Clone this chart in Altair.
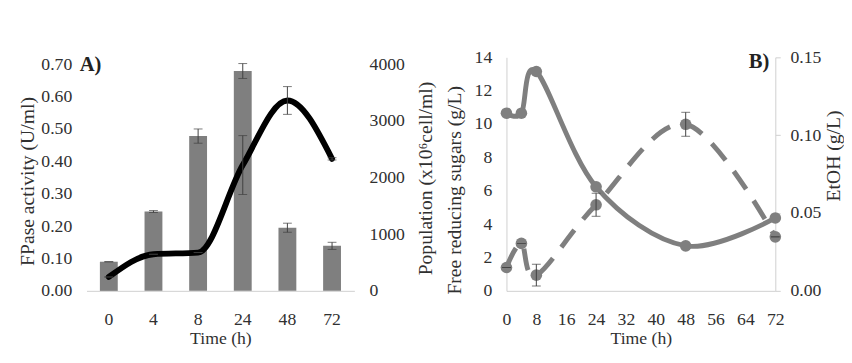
import altair as alt
import pandas as pd

# ---------------- data ----------------
time_a = ["0", "4", "8", "24", "48", "72"]
fpase = [0.09, 0.245, 0.478, 0.679, 0.195, 0.139]
fpase_err = [0.0, 0.003, 0.022, 0.023, 0.014, 0.011]
population = [245, 646, 676, 2220, 3360, 2330]
population_err = [0, 0, 0, 520, 245, 20]

time_b = [0, 4, 8, 24, 48, 72]
sugars = [10.65, 10.65, 13.15, 6.24, 2.7, 4.37]
etoh = [0.015, 0.0305, 0.0101, 0.0553, 0.107, 0.0347]
etoh_err = [0.0, 0.0, 0.007, 0.0074, 0.0077, 0.0]

FONT = "Liberation Serif"
GREY = "#7f7f7f"
TXT = "#303030"
AXC = "#cfcfcf"

df_a = pd.DataFrame({
    "t": time_a, "fpase": fpase,
    "f_lo": [v - e for v, e in zip(fpase, fpase_err)],
    "f_hi": [v + e for v, e in zip(fpase, fpase_err)],
    "pop": population,
    "p_lo": [v - e for v, e in zip(population, population_err)],
    "p_hi": [v + e for v, e in zip(population, population_err)],
})
df_b = pd.DataFrame({
    "t": time_b, "sug": sugars, "etoh": etoh,
    "e_lo": [v - e for v, e in zip(etoh, etoh_err)],
    "e_hi": [v + e for v, e in zip(etoh, etoh_err)],
})

H = 238
HA = 231  # pixel height used by 0..0.70 in panel A

def yaxis(title, values, fmt, orient, title_y, title_pad, label_pad=15,
          domain_line=False, ticks=False):
    extra = {"titleBaseline": "top"} if orient == "right" else {}
    return alt.Axis(title=title, values=values, format=fmt, orient=orient,
                    grid=False, domain=domain_line, domainColor=AXC,
                    ticks=ticks, tickSize=5 if ticks else 0, tickColor=AXC,
                    labelPadding=label_pad, titlePadding=title_pad, titleAngle=270,
                    titleY=title_y,
                    labelFontSize=18, titleFontSize=20,
                    labelFont=FONT, titleFont=FONT,
                    labelColor=TXT, titleColor=TXT, titleFontWeight="normal",
                    **extra)

def xaxis_common(**kw):
    return alt.Axis(title="Time (h)", labelAngle=0, domainColor=AXC,
                    ticks=False, labelPadding=20, titlePadding=2,
                    labelFontSize=18, titleFontSize=18, labelFont=FONT,
                    titleFont=FONT, labelColor=TXT, titleColor=TXT,
                    titleFontWeight="normal", grid=False, **kw)

xa = alt.X("t:N", sort=time_a,
           scale=alt.Scale(paddingInner=0.6, paddingOuter=0.3),
           axis=xaxis_common())

yf_scale = alt.Scale(domain=[0, 0.7 * H / HA], nice=False)
yf_axis = yaxis("FPase activity (U/ml)", [0, 0.1, 0.2, 0.3, 0.4, 0.5, 0.6, 0.7],
                ".2f", "left", 126, 4)
yp_scale = alt.Scale(domain=[0, 4000 * H / HA], nice=False)
yp_axis = yaxis("Population (x10⁶cell/ml)", [0, 1000, 2000, 3000, 4000], "d", "right",
                123, 12)

ERR = "#404040"
base_a = alt.Chart(df_a)
bars = base_a.mark_bar(color=GREY).encode(
    x=xa, y=alt.Y("fpase:Q", scale=yf_scale, axis=yf_axis))
f_rule = base_a.mark_rule(color=ERR, strokeWidth=1).encode(
    x=xa, y=alt.Y("f_lo:Q", scale=yf_scale, axis=yf_axis), y2="f_hi:Q")
f_lo = base_a.mark_tick(color=ERR, thickness=1, size=9, orient="horizontal").encode(
    x=xa, y=alt.Y("f_lo:Q", scale=yf_scale, axis=yf_axis))
f_hi = base_a.mark_tick(color=ERR, thickness=1, size=9, orient="horizontal").encode(
    x=xa, y=alt.Y("f_hi:Q", scale=yf_scale, axis=yf_axis))
group_f = alt.layer(bars, f_rule, f_lo, f_hi)

pline = base_a.mark_line(color="black", strokeWidth=6, interpolate="monotone",
                         strokeCap="round").encode(
    x=xa, y=alt.Y("pop:Q", scale=yp_scale, axis=yp_axis))
p_rule = base_a.mark_rule(color=ERR, strokeWidth=1).encode(
    x=xa, y=alt.Y("p_lo:Q", scale=yp_scale, axis=yp_axis), y2="p_hi:Q")
p_lo = base_a.mark_tick(color=ERR, thickness=1, size=9, orient="horizontal").encode(
    x=xa, y=alt.Y("p_lo:Q", scale=yp_scale, axis=yp_axis))
p_hi = base_a.mark_tick(color=ERR, thickness=1, size=9, orient="horizontal").encode(
    x=xa, y=alt.Y("p_hi:Q", scale=yp_scale, axis=yp_axis))
group_p = alt.layer(pline, p_rule, p_lo, p_hi)

label_a = alt.Chart(pd.DataFrame({"lab": ["A)"]})).mark_text(
    align="left", baseline="middle", font=FONT, fontSize=21, fontWeight="bold",
    color="#222222").encode(x=alt.value(-7), y=alt.value(8), text="lab:N")

panel_a = alt.layer(group_f, group_p, label_a).resolve_scale(y="independent").properties(
    width=273, height=H)

# ---------------- panel B ----------------
xb = alt.X("t:Q", scale=alt.Scale(domain=[0, 72], nice=False),
           axis=xaxis_common(values=list(range(0, 73, 8)), labelFlush=False))
ys_scale = alt.Scale(domain=[0, 14], nice=False)
ys_axis = yaxis("Free reducing sugars (g/L)", list(range(0, 15, 2)), "d", "left",
                135, 10, domain_line=True)
ye_scale = alt.Scale(domain=[0, 0.15], nice=False)
ye_axis = yaxis("EtOH (g/L)", [0, 0.05, 0.10, 0.15], ".2f", "right",
                100, 3, label_pad=10, domain_line=True, ticks=True)

base_b = alt.Chart(df_b)
s_line = base_b.mark_line(color=GREY, strokeWidth=5, interpolate="cardinal").encode(
    x=xb, y=alt.Y("sug:Q", scale=ys_scale, axis=ys_axis))
s_pts = base_b.mark_circle(color=GREY, size=140, opacity=1).encode(
    x=xb, y=alt.Y("sug:Q", scale=ys_scale, axis=ys_axis))
group_s = alt.layer(s_line, s_pts)

e_line = base_b.mark_line(color=GREY, strokeWidth=5, interpolate="cardinal",
                          strokeDash=[22, 14]).encode(
    x=xb, y=alt.Y("etoh:Q", scale=ye_scale, axis=ye_axis))
e_pts = base_b.mark_circle(color=GREY, size=140, opacity=1).encode(
    x=xb, y=alt.Y("etoh:Q", scale=ye_scale, axis=ye_axis))
e_rule = base_b.mark_rule(color=ERR, strokeWidth=1).encode(
    x=xb, y=alt.Y("e_lo:Q", scale=ye_scale, axis=ye_axis), y2="e_hi:Q")
e_lo = base_b.mark_tick(color=ERR, thickness=1, size=9, orient="horizontal").encode(
    x=xb, y=alt.Y("e_lo:Q", scale=ye_scale, axis=ye_axis))
e_hi = base_b.mark_tick(color=ERR, thickness=1, size=9, orient="horizontal").encode(
    x=xb, y=alt.Y("e_hi:Q", scale=ye_scale, axis=ye_axis))
group_e = alt.layer(e_line, e_pts, e_rule, e_lo, e_hi)

label_b = alt.Chart(pd.DataFrame({"lab": ["B)"]})).mark_text(
    align="left", baseline="middle", font=FONT, fontSize=21, fontWeight="bold",
    color="#222222").encode(x=alt.value(247), y=alt.value(5), text="lab:N")

panel_b = alt.layer(group_s, group_e, label_b).resolve_scale(y="independent").properties(
    width=274, height=H)

chart = alt.hconcat(panel_a, panel_b, spacing=8).properties(
    padding={"left": 9, "top": 38, "right": 0, "bottom": 0},
    background="white",
).configure_view(stroke=None)

chart.save("out.html", embed_options={"renderer": "svg", "actions": False})
